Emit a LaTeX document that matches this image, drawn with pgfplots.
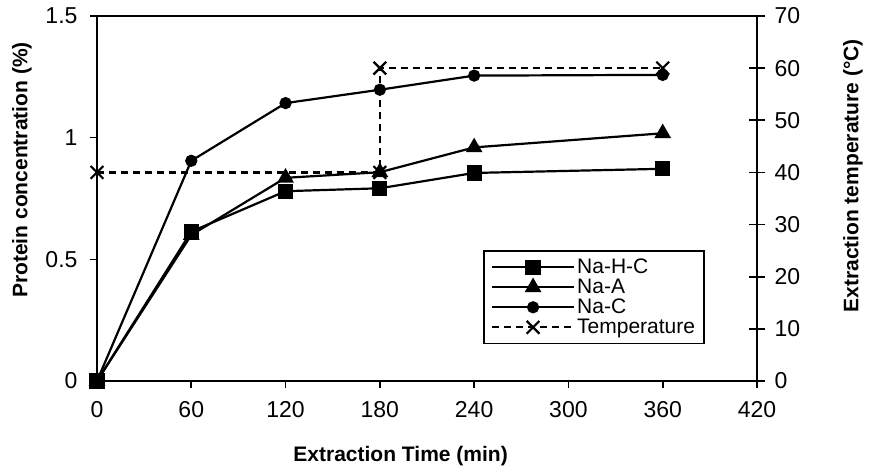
\documentclass[border=0pt]{standalone}
\usepackage{pgfplots}
\pgfplotsset{compat=1.18}
\usepackage{fontspec}
\setmainfont{Liberation Sans}
\begin{document}
\begin{tikzpicture}
\pgfplotsset{
  common/.style={
    scale only axis, width=660pt, height=365pt,
    xmin=0, xmax=420, clip=false,
    /pgf/number format/assume math mode=true,
    ticklabel style={font=\fontsize{23}{27}\selectfont},
    label style={font=\bfseries\fontsize{21}{24}\selectfont},
    axis line style={line width=1.7pt},
    every tick/.style={line width=1.6pt, black},
  },
  myline/.style={black, line width=2.2pt, mark options={solid}},
  legend image code/.code={\draw[mark repeat=2,mark phase=2,#1] plot coordinates {(0pt,0pt) (41pt,0pt) (82pt,0pt)};},
}
\begin{axis}[common,
  ymin=0, ymax=1.5,
  xtick={0,60,...,420}, ytick={0,0.5,1,1.5},
  xtick pos=bottom, ytick pos=left,
  tick align=outside, major tick length=7pt,
  xticklabel style={yshift=-10pt},
  yticklabel style={xshift=-9pt},
  xlabel={Extraction Time (min)},
  ylabel={Protein concentration (\%)},
  xlabel style={at={(axis description cs:0.46,0)}, anchor=center, yshift=-75pt},
  ylabel style={at={(axis description cs:-0.1136,0.578)}, anchor=center},
]
\addplot[myline, mark=square*, mark size=6.5pt] coordinates {(0,0) (60,0.614) (120,0.78) (180,0.792) (240,0.855) (360,0.872)};
\addplot[myline, mark=triangle*, mark size=7.5pt] coordinates {(0,0) (60,0.60) (120,0.835) (180,0.858) (240,0.96) (360,1.018)};
\addplot[myline, mark=*, mark size=5pt] coordinates {(0,0) (60,0.905) (120,1.142) (180,1.197) (240,1.255) (360,1.258)};
\end{axis}
\begin{axis}[common,
  ymin=0, ymax=70, ytick={0,10,...,70},
  axis x line=none, axis y line*=right,
  tick align=center, major tick length=16pt,
  yticklabel style={xshift=6pt},
  ylabel={Extraction temperature (°C)},
  ylabel style={at={(axis description cs:1.1455,0.562)}, anchor=center},
  legend style={at={(0.921,0.101)}, anchor=south east, draw=black, line width=1.6pt,
    font=\fontsize{21}{23}\selectfont, inner xsep=7pt, inner ysep=6pt,
    row sep=0pt, cells={anchor=west}},
]
\addlegendimage{myline, mark=square*, mark size=6.5pt}
\addlegendentry{Na-H-C}
\addlegendimage{myline, mark=triangle*, mark size=7.5pt}
\addlegendentry{Na-A}
\addlegendimage{myline, mark=*, mark size=5pt}
\addlegendentry{Na-C}
\addplot[myline, dash pattern=on 7pt off 5pt, mark=x, mark size=9pt] coordinates {(0,40) (180,40) (180,60) (360,60)};
\addlegendentry{Temperature}
\end{axis}
\pgfresetboundingbox
\path (-97pt,-92pt) rectangle (775pt,381pt);
\end{tikzpicture}
\end{document}
